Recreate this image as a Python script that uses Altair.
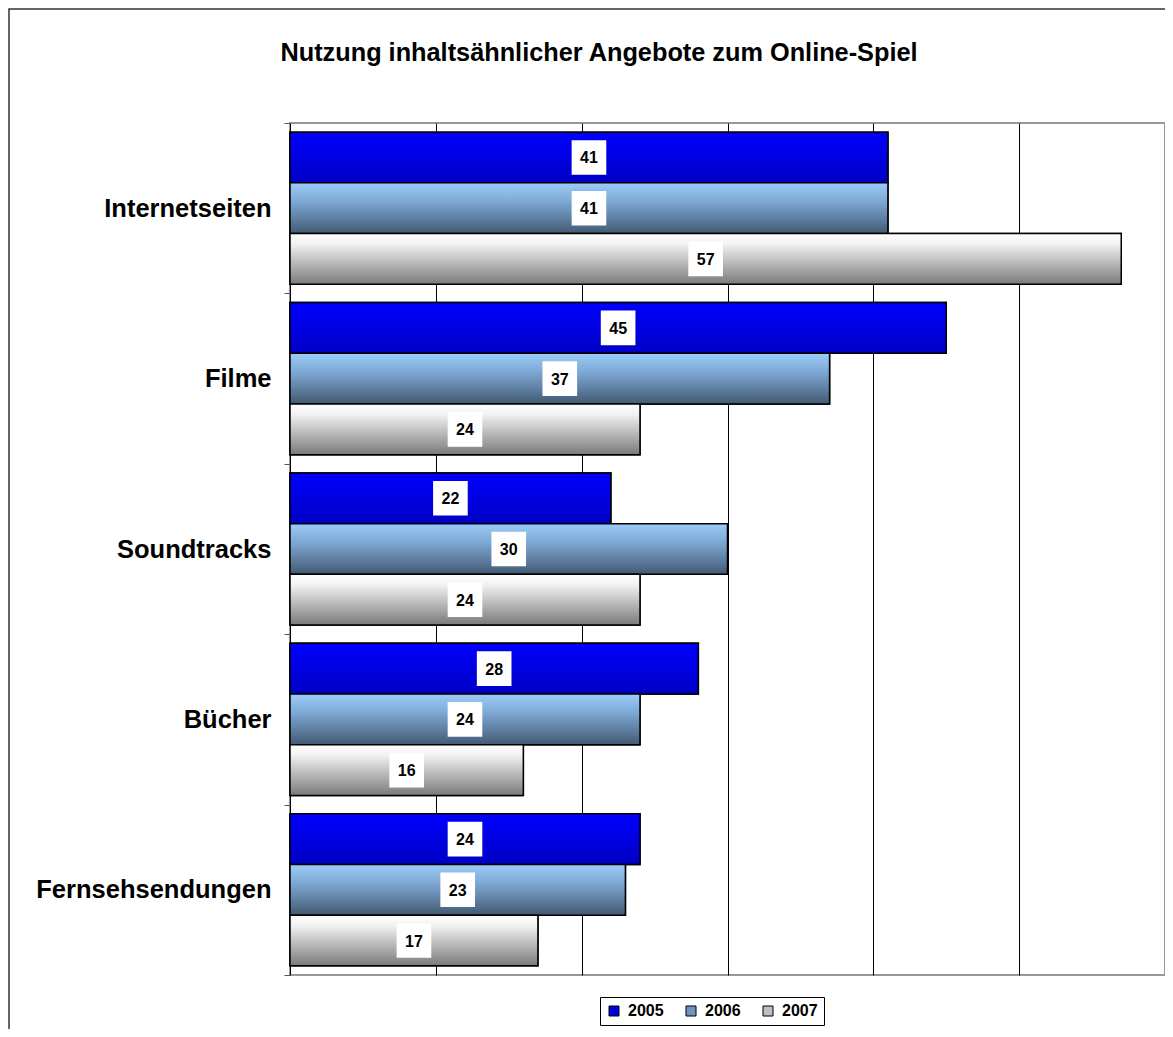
import altair as alt
import pandas as pd

categories = ["Internetseiten", "Filme", "Soundtracks", "Bücher", "Fernsehsendungen"]
years = ["2005", "2006", "2007"]
v2005 = [41, 45, 22, 28, 24]
v2006 = [41, 37, 30, 24, 23]
v2007 = [57, 24, 24, 16, 17]
title_text = "Nutzung inhaltsähnlicher Angebote zum Online-Spiel"

rows = []
for yr, vals in zip(years, [v2005, v2006, v2007]):
    for c, v in zip(categories, vals):
        rows.append({"category": c, "year": yr, "value": v})
df = pd.DataFrame(rows)

FONT = "Liberation Sans"

legend_colors = ["#0000DD", "#6E95BD", "#BFBFBF"]


def grad(stops):
    return alt.LinearGradient(
        gradient="linear",
        stops=[alt.GradientStop(color=c, offset=o) for o, c in stops],
        x1=0, x2=0, y1=0, y2=1,
    )


gradients = {
    "2005": grad([(0, "#0000FF"), (1, "#0000C4")]),
    "2006": grad([(0, "#9CCCFA"), (0.35, "#7FAAD6"), (1, "#435A74")]),
    "2007": grad([(0, "#FFFFFF"), (0.2, "#F2F2F2"), (1, "#7A7A7A")]),
}

y_enc = alt.Y(
    "category:N",
    sort=categories,
    scale=alt.Scale(paddingInner=0, paddingOuter=0),
    axis=alt.Axis(
        title=None,
        tickBand="extent",
        tickSize=6,
        tickColor="#555555",
        tickWidth=1,
        domain=False,
        grid=False,
        labelFont=FONT,
        labelFontSize=25.5,
        labelFontWeight="bold",
        labelColor="black",
        labelPadding=13,
        labelLimit=500,
    ),
)
yoff_enc = alt.YOffset(
    "year:N", scale=alt.Scale(domain=years, paddingOuter=0.18, paddingInner=0)
)
x_scale = alt.Scale(domain=[0, 60], nice=False)
x_enc = alt.X(
    "value:Q",
    scale=x_scale,
    axis=alt.Axis(
        title=None,
        values=[0, 10, 20, 30, 40, 50, 60],
        grid=True,
        gridColor="black",
        gridWidth=1,
        labels=False,
        ticks=False,
        domain=False,
    ),
)

base = alt.Chart(df).encode(y=y_enc, yOffset=yoff_enc)

legend_bars = base.mark_bar(stroke="black", strokeWidth=1.5).encode(
    x=x_enc,
    color=alt.Color(
        "year:N",
        scale=alt.Scale(domain=years, range=legend_colors),
        legend=alt.Legend(
            title=None,
            orient="none",
            legendX=310,
            legendY=874,
            direction="horizontal",
            symbolType="square",
            symbolSize=100,
            symbolStrokeColor="black",
            symbolStrokeWidth=1,
            labelFont=FONT,
            labelFontSize=16,
            labelFontWeight="bold",
            labelColor="black",
            labelOffset=6,
            columnPadding=19,
            padding=6,
            strokeColor="black",
            fillColor="white",
        ),
    ),
)

grad_layers = [
    base.transform_filter(alt.datum.year == yr)
    .mark_bar(fill=gradients[yr], stroke="black", strokeWidth=1.5)
    .encode(x=alt.X("value:Q", scale=x_scale))
    for yr in years
]

label_base = base.transform_calculate(half="datum.value / 2").encode(
    x=alt.X("half:Q", scale=x_scale)
)
label_boxes = label_base.mark_square(
    size=1200, color="white", opacity=1, filled=True, strokeWidth=0
)
label_text = label_base.mark_text(
    font=FONT, fontSize=16, fontWeight="bold", color="black",
    align="center", baseline="middle", dy=1,
).encode(text="value:Q")

one = alt.Data(values=[{"a": 1}])

frame = alt.Chart(one).mark_rect(
    filled=False, stroke="#333333", strokeWidth=1.5
).encode(
    x=alt.value(-281), x2=alt.value(1400), y=alt.value(-114), y2=alt.value(1400)
)

title = alt.Chart(one).mark_text(
    text=title_text,
    font=FONT,
    fontSize=25.3,
    fontWeight="bold",
    color="black",
    align="center",
    baseline="alphabetic",
).encode(x=alt.value(309), y=alt.value(-62))

chart = (
    alt.layer(frame, title, legend_bars, *grad_layers, label_boxes, label_text)
    .properties(
        width=875,
        height=852,
        padding={"left": 282, "top": 115, "right": 0, "bottom": 54},
        autosize=alt.AutoSizeParams(type="none"),
        background="white",
    )
    .configure_view(stroke="#999999", strokeWidth=2)
)

chart.save("out.html", embed_options={"renderer": "svg", "actions": False})
